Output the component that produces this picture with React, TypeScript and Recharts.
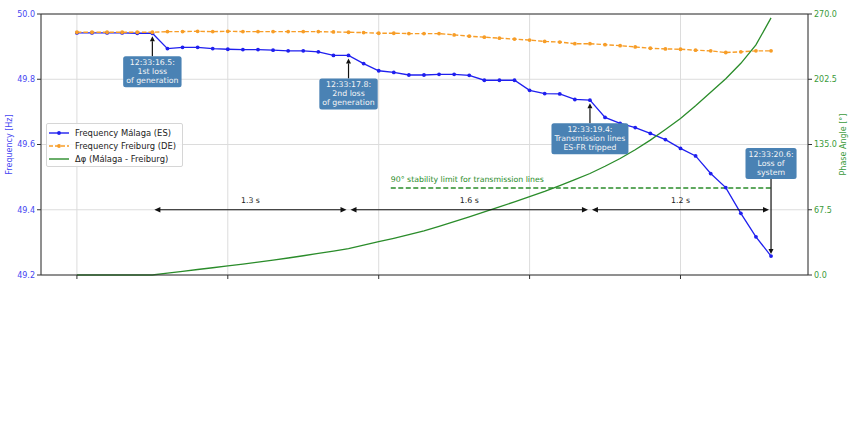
import { ComposedChart, Line, XAxis, YAxis, CartesianGrid, ReferenceLine, ReferenceDot } from "recharts"

// sampled every 0.1 s starting at 12:33:16.0
const malaga = [
  49.942, 49.942, 49.942, 49.942, 49.941, 49.941, 49.894, 49.898, 49.898, 49.894,
  49.892, 49.891, 49.891, 49.889, 49.887, 49.887, 49.884, 49.873, 49.873, 49.848,
  49.826, 49.821, 49.813, 49.813, 49.815, 49.815, 49.812, 49.797, 49.797, 49.797,
  49.766, 49.756, 49.755, 49.738, 49.736, 49.683, 49.665, 49.652, 49.634, 49.615,
  49.588, 49.565, 49.511, 49.468, 49.389, 49.317, 49.258,
]
const freiburg = [
  49.944, 49.944, 49.944, 49.944, 49.944, 49.944, 49.946, 49.946, 49.947, 49.946,
  49.947, 49.946, 49.946, 49.946, 49.946, 49.946, 49.946, 49.945, 49.944, 49.943,
  49.941, 49.941, 49.94, 49.94, 49.94, 49.936, 49.932, 49.929, 49.926, 49.923,
  49.92, 49.916, 49.914, 49.909, 49.909, 49.906, 49.903, 49.899, 49.895, 49.893,
  49.892, 49.889, 49.887, 49.882, 49.884, 49.887, 49.887,
]
const phaseAngle = [
  0, 0, 0, 0, 0, 0, 1.9, 3.8, 5.7, 7.5,
  9.4, 11.3, 13.3, 15.4, 17.6, 19.9, 22.3, 24.8, 27.3, 30.8,
  34.5, 38.0, 41.8, 45.6, 50.3, 55.2, 60.2, 65.3, 70.5, 75.7,
  81.0, 86.5, 92.4, 98.6, 105.0, 112.5, 120.5, 129.5, 139.5, 150.5,
  162.0, 175.0, 189.0, 203.0, 219.0, 238.0, 266.0,
]
const times = malaga.map((_, i) => +(16 + i * 0.1).toFixed(1))

const freqTicks = [49.2, 49.4, 49.6, 49.8, 50.0]
const phaseTicks = [0, 67.5, 135, 202.5, 270]
const timeTicks = [16, 17, 18, 19, 20]

const eventTimes = [16.5, 17.8, 19.4, 20.6]
const eventLabels = [
  ["12:33:16.5:", "1st loss", "of generation"],
  ["12:33:17.8:", "2nd loss", "of generation"],
  ["12:33:19.4:", "Transmission lines", "ES-FR tripped"],
  ["12:33:20.6:", "Loss of", "system"],
]
const eventAbove = [false, false, false, true]

const intervalStarts = [16.5, 17.8, 19.4]
const intervalEnds = [17.8, 19.4, 20.6]
const intervalLabels = ["1.3 s", "1.6 s", "1.2 s"]
const intervalLevel = 49.4

const stabilityLimit = 90
const stabilityStart = 18.08
const stabilityEnd = 20.6
const stabilityLabel = "90° stability limit for transmission lines"

const FONT = '"DejaVu Sans", sans-serif'
const BLUE = "#1f1fef"
const ORANGE = "#f79d27"
const GREEN = "#2a8c2a"
const BOX = "#4a82b4"

const data = times.map((t, i) => ({ t, malaga: malaga[i], freiburg: freiburg[i], phase: phaseAngle[i] }))

let ctx: CanvasRenderingContext2D | null = null
function measure(s: string, size: number) {
  if (!ctx) ctx = document.createElement("canvas").getContext("2d")
  if (!ctx) return s.length * size * 0.6
  ctx.font = `${size}px "DejaVu Sans"`
  return ctx.measureText(s).width
}

function Callout({ cx, cy, lines, above }: { cx: number; cy: number; lines: string[]; above: boolean }) {
  const fs = 7.8
  const w = Math.max(...lines.map((l) => measure(l, fs))) + 6
  const h = 31
  const boxTop = above ? cy - 108 : cy + 23
  const tipY = above ? cy - 2 : cy + 3
  const tailY = above ? boxTop + h : boxTop
  const baseY = above ? tipY - 5 : tipY + 5
  return (
    <g>
      <line x1={cx} y1={tailY} x2={cx} y2={baseY} stroke="#111" strokeWidth={1.2} />
      <polygon points={`${cx},${tipY} ${cx - 2.5},${baseY} ${cx + 2.5},${baseY}`} fill="#111" />
      <rect x={cx - w / 2} y={boxTop} width={w} height={h} rx={2.5} fill={BOX} />
      {lines.map((l, k) => (
        <text
          key={k}
          x={cx}
          y={boxTop + 6.5 + k * 9}
          textAnchor="middle"
          dominantBaseline="central"
          fontSize={fs}
          fontFamily={FONT}
          fill="#f4f4f4"
        >
          {l}
        </text>
      ))}
    </g>
  )
}

function DoubleArrow(props: any) {
  const { x1, x2, y1, label } = props
  const a = x1 + 2
  const b = x2 - 2
  return (
    <g>
      <line x1={a + 4} y1={y1} x2={b - 4} y2={y1} stroke="#111" strokeWidth={1.2} />
      <polygon points={`${a},${y1} ${a + 6},${y1 - 2.7} ${a + 6},${y1 + 2.7}`} fill="#111" />
      <polygon points={`${b},${y1} ${b - 6},${y1 - 2.7} ${b - 6},${y1 + 2.7}`} fill="#111" />
      <text x={(x1 + x2) / 2} y={y1 - 9} textAnchor="middle" dominantBaseline="central" fontSize={7.8} fontFamily={FONT} fill="#222">
        {label}
      </text>
    </g>
  )
}

function StabilityLine(props: any) {
  const { x1, x2, y1 } = props
  return (
    <g>
      <line x1={x1} y1={y1} x2={x2} y2={y1} stroke={GREEN} strokeWidth={1.3} strokeDasharray="5 2.5" />
      <text x={x1} y={y1 - 9} dominantBaseline="central" fontSize={7.8} fontFamily={FONT} fill={GREEN}>
        {stabilityLabel}
      </text>
    </g>
  )
}

const legendItems = [
  { key: "malaga", name: "Frequency Málaga (ES)", color: BLUE, dash: undefined, dot: true },
  { key: "freiburg", name: "Frequency Freiburg (DE)", color: ORANGE, dash: "4 2", dot: true },
  { key: "phase", name: "Δφ (Málaga - Freiburg)", color: GREEN, dash: undefined, dot: false },
]

function LegendBox() {
  return (
    <div
      style={{
        position: "absolute",
        left: 46,
        top: 123,
        border: "1px solid #d6d6d6",
        borderRadius: 2,
        background: "rgba(255,255,255,0.85)",
        padding: "2px 6px 1px 2px",
        fontFamily: FONT,
        fontSize: 8.4,
        color: "#222",
      }}
    >
      {legendItems.map((it) => (
        <div key={it.key} style={{ display: "flex", alignItems: "center", height: 13 }}>
          <svg width={20} height={8} style={{ marginRight: 6 }}>
            <line x1={0} y1={4} x2={20} y2={4} stroke={it.color} strokeWidth={1.4} strokeDasharray={it.dash} />
            {it.dot && <circle cx={10} cy={4} r={1.9} fill={it.color} />}
          </svg>
          <span style={{ whiteSpace: "nowrap" }}>{it.name}</span>
        </div>
      ))}
    </div>
  )
}

export default function App() {
  const tickFont = { fontSize: 8, fontFamily: FONT }
  return (
    <div style={{ position: "absolute", left: 0, top: 0, width: 850, height: 424, background: "#fff" }}>
      <ComposedChart width={850} height={424} data={data} margin={{ top: 14, right: 0, bottom: 129, left: 0 }}>
        <CartesianGrid yAxisId="left" stroke="#dcdcdc" />
        <XAxis
          dataKey="t"
          type="number"
          domain={[15.762, 20.845]}
          ticks={timeTicks}
          tickFormatter={() => ""}
          tickSize={4}
          height={20}
          stroke="#333"
          allowDataOverflow
        />
        <YAxis
          yAxisId="left"
          domain={[49.2, 50.0]}
          ticks={freqTicks}
          tickFormatter={(v: number) => v.toFixed(1)}
          width={41}
          tickSize={4}
          tickMargin={2}
          stroke="#333"
          tick={{ ...tickFont, fill: "#4646f2" }}
        />
        <YAxis
          yAxisId="right"
          orientation="right"
          domain={[0, 270]}
          ticks={phaseTicks}
          tickFormatter={(v: number) => v.toFixed(1)}
          width={42}
          tickSize={4}
          tickMargin={2}
          stroke="#333"
          tick={{ ...tickFont, fill: "#3a9a3a" }}
        />
        <ReferenceLine yAxisId="left" y={50} stroke="#333" />
        <Line
          yAxisId="left"
          dataKey="malaga"
          name="Frequency Málaga (ES)"
          type="linear"
          stroke={BLUE}
          strokeWidth={1.3}
          dot={{ r: 1.9, fill: BLUE, stroke: "none" }}
          activeDot={false}
          isAnimationActive={false}
        />
        <Line
          yAxisId="left"
          dataKey="freiburg"
          name="Frequency Freiburg (DE)"
          type="linear"
          stroke={ORANGE}
          strokeWidth={1.4}
          strokeDasharray="4.5 2"
          dot={{ r: 1.9, fill: ORANGE, stroke: "none" }}
          activeDot={false}
          isAnimationActive={false}
        />
        <Line
          yAxisId="right"
          dataKey="phase"
          name="Δφ (Málaga - Freiburg)"
          type="linear"
          stroke={GREEN}
          strokeWidth={1.3}
          dot={false}
          activeDot={false}
          isAnimationActive={false}
        />
        <ReferenceLine
          yAxisId="right"
          segment={[
            { x: stabilityStart, y: stabilityLimit },
            { x: stabilityEnd, y: stabilityLimit },
          ]}
          shape={(p: any) => <StabilityLine {...p} />}
        />
        {intervalStarts.map((s, i) => (
          <ReferenceLine
            key={`iv${i}`}
            yAxisId="left"
            segment={[
              { x: s, y: intervalLevel },
              { x: intervalEnds[i], y: intervalLevel },
            ]}
            shape={(p: any) => <DoubleArrow {...p} label={intervalLabels[i]} />}
          />
        ))}
        {eventTimes.map((t, i) => (
          <ReferenceDot
            key={`ev${i}`}
            yAxisId="left"
            x={t}
            y={malaga[times.indexOf(t)]}
            r={0}
            shape={(p: any) => <Callout cx={p.cx} cy={p.cy} lines={eventLabels[i]} above={eventAbove[i]} />}
          />
        ))}
      </ComposedChart>
      <LegendBox />
      <svg width={850} height={424} style={{ position: "absolute", left: 0, top: 0, pointerEvents: "none" }}>
        <text
          transform="translate(9,144.5) rotate(-90)"
          textAnchor="middle"
          dominantBaseline="central"
          fontSize={8}
          fontFamily={FONT}
          fill="#4646f2"
        >
          Frequency [Hz]
        </text>
        <text
          transform="translate(843,144.5) rotate(-90)"
          textAnchor="middle"
          dominantBaseline="central"
          fontSize={8}
          fontFamily={FONT}
          fill="#3a9a3a"
        >
          Phase Angle [°]
        </text>
      </svg>
    </div>
  )
}
